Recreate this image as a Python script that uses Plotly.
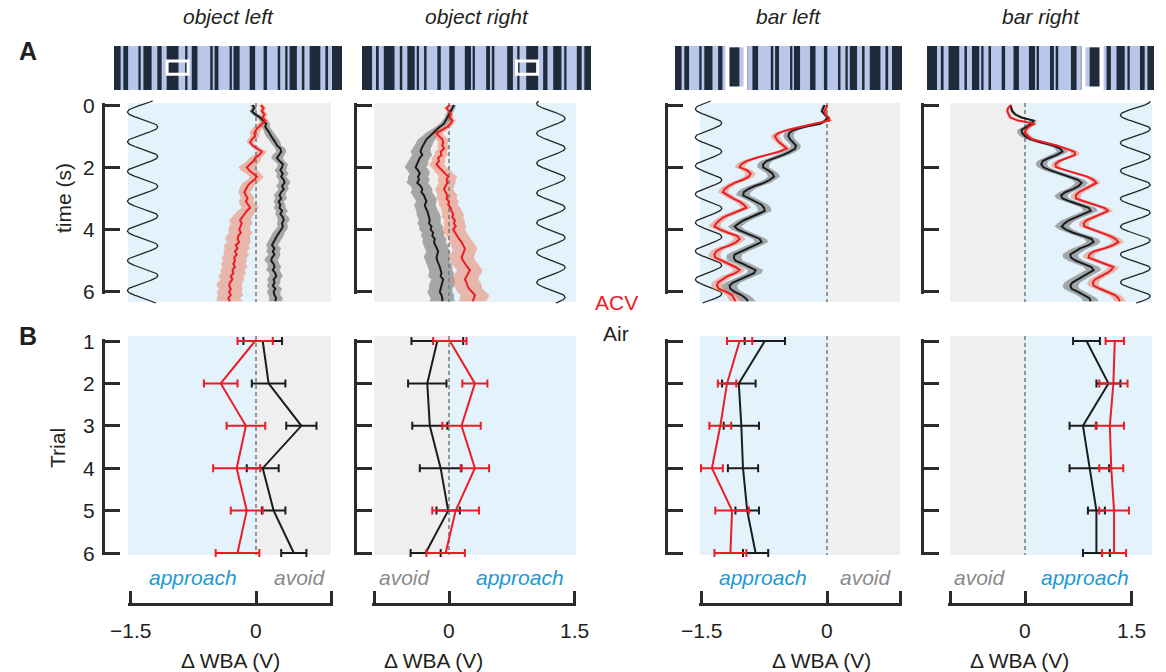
import numpy as np
import plotly.graph_objects as go

W, H = 1166, 672

# ---------------------------------------------------------------- data
time_s = [round(0.1 * i, 1) for i in range(64)]
trials = [1, 2, 3, 4, 5, 6]
time_ticks = [0, 2, 4, 6]

# Panel A: mean change in wingbeat amplitude (V) over time, with SEM
acv_object_left = [0.06, 0.09, 0.07, 0.10, 0.08, 0.11, 0.07, 0.03, 0.00, -0.02,
                   -0.01, -0.05, -0.07, -0.04, 0.02, 0.07, 0.04, -0.01, -0.03, -0.07,
                   -0.11, -0.08, -0.03, 0.01, -0.02, -0.07, -0.10, -0.12, -0.14, -0.12,
                   -0.10, -0.12, -0.09, -0.07, -0.11, -0.14, -0.17, -0.19, -0.17, -0.19,
                   -0.20, -0.18, -0.21, -0.22, -0.20, -0.24, -0.22, -0.25, -0.23, -0.26,
                   -0.25, -0.27, -0.25, -0.28, -0.27, -0.30, -0.28, -0.31, -0.32, -0.30,
                   -0.32, -0.30, -0.33, -0.31]
acv_object_left_sem = [0.03, 0.03, 0.03, 0.04, 0.04, 0.04, 0.05, 0.05, 0.06, 0.06,
                       0.05, 0.05, 0.04, 0.04, 0.05, 0.06, 0.06, 0.07, 0.08, 0.09,
                       0.10, 0.10, 0.09, 0.08, 0.08, 0.09, 0.08, 0.08, 0.07, 0.08,
                       0.08, 0.09, 0.10, 0.10, 0.11, 0.12, 0.12, 0.13, 0.13, 0.12,
                       0.13, 0.14, 0.14, 0.15, 0.14, 0.15, 0.15, 0.14, 0.15, 0.15,
                       0.14, 0.15, 0.15, 0.14, 0.15, 0.15, 0.14, 0.15, 0.15, 0.14,
                       0.15, 0.15, 0.14, 0.15]
air_object_left = [-0.04, -0.02, -0.05, -0.01, 0.05, 0.09, 0.12, 0.11, 0.14, 0.16,
                   0.18, 0.21, 0.23, 0.25, 0.29, 0.30, 0.27, 0.25, 0.28, 0.32,
                   0.31, 0.29, 0.32, 0.30, 0.33, 0.34, 0.31, 0.33, 0.30, 0.28,
                   0.30, 0.27, 0.29, 0.28, 0.31, 0.29, 0.32, 0.33, 0.31, 0.32,
                   0.30, 0.27, 0.25, 0.23, 0.21, 0.19, 0.22, 0.20, 0.22, 0.19,
                   0.18, 0.21, 0.22, 0.20, 0.23, 0.24, 0.21, 0.22, 0.20, 0.23,
                   0.21, 0.22, 0.24, 0.23]
air_object_left_sem = [0.03, 0.03, 0.03, 0.04, 0.04, 0.05, 0.05, 0.05, 0.05, 0.06,
                       0.06, 0.06, 0.06, 0.05, 0.06, 0.06, 0.07, 0.07, 0.06, 0.06,
                       0.06, 0.07, 0.07, 0.06, 0.06, 0.07, 0.07, 0.06, 0.06, 0.07,
                       0.07, 0.06, 0.06, 0.07, 0.07, 0.06, 0.07, 0.07, 0.06, 0.06,
                       0.07, 0.07, 0.08, 0.08, 0.07, 0.07, 0.08, 0.08, 0.07, 0.08,
                       0.08, 0.07, 0.08, 0.08, 0.07, 0.08, 0.08, 0.07, 0.07, 0.08,
                       0.08, 0.07, 0.08, 0.08]

acv_object_right = [0.01, -0.03, 0.00, 0.02, 0.01, 0.04, 0.02, -0.02, -0.08, -0.15,
                    -0.12, -0.08, -0.07, -0.08, -0.06, -0.10, -0.09, -0.13, -0.12, -0.15,
                    -0.12, -0.08, -0.05, -0.01, -0.03, -0.02, -0.04, -0.06, -0.04, -0.02,
                    -0.03, 0.00, -0.01, 0.02, 0.03, 0.05, 0.04, 0.07, 0.06, 0.08,
                    0.05, 0.07, 0.10, 0.12, 0.15, 0.17, 0.19, 0.18, 0.16, 0.15,
                    0.17, 0.19, 0.22, 0.25, 0.23, 0.20, 0.19, 0.21, 0.22, 0.24,
                    0.27, 0.31, 0.30, 0.28]
acv_object_right_sem = [0.03, 0.03, 0.03, 0.03, 0.04, 0.04, 0.04, 0.05, 0.06, 0.07,
                        0.07, 0.07, 0.06, 0.06, 0.07, 0.07, 0.08, 0.08, 0.08, 0.09,
                        0.09, 0.10, 0.10, 0.11, 0.11, 0.10, 0.10, 0.11, 0.11, 0.12,
                        0.12, 0.12, 0.11, 0.12, 0.12, 0.13, 0.13, 0.12, 0.13, 0.13,
                        0.14, 0.14, 0.13, 0.14, 0.14, 0.15, 0.15, 0.14, 0.15, 0.15,
                        0.15, 0.16, 0.16, 0.15, 0.16, 0.16, 0.16, 0.17, 0.17, 0.16,
                        0.17, 0.17, 0.17, 0.16]
air_object_right = [0.06, 0.04, 0.02, 0.00, -0.01, -0.03, -0.06, -0.11, -0.15, -0.20,
                    -0.23, -0.27, -0.29, -0.31, -0.33, -0.34, -0.32, -0.35, -0.37, -0.38,
                    -0.40, -0.37, -0.35, -0.37, -0.36, -0.38, -0.34, -0.32, -0.33, -0.30,
                    -0.28, -0.27, -0.29, -0.28, -0.26, -0.25, -0.24, -0.23, -0.24, -0.21,
                    -0.22, -0.19, -0.20, -0.17, -0.18, -0.16, -0.15, -0.13, -0.14, -0.15,
                    -0.14, -0.12, -0.11, -0.10, -0.09, -0.10, -0.07, -0.08, -0.09, -0.10,
                    -0.11, -0.09, -0.08, -0.08]
air_object_right_sem = [0.03, 0.03, 0.03, 0.04, 0.04, 0.05, 0.05, 0.06, 0.07, 0.08,
                        0.09, 0.10, 0.10, 0.11, 0.11, 0.12, 0.12, 0.12, 0.12, 0.13,
                        0.13, 0.13, 0.12, 0.12, 0.13, 0.13, 0.12, 0.12, 0.13, 0.13,
                        0.13, 0.12, 0.13, 0.13, 0.13, 0.14, 0.14, 0.13, 0.14, 0.14,
                        0.14, 0.13, 0.14, 0.14, 0.14, 0.15, 0.14, 0.14, 0.15, 0.15,
                        0.14, 0.15, 0.15, 0.14, 0.15, 0.15, 0.14, 0.15, 0.15, 0.14,
                        0.15, 0.15, 0.14, 0.15]

acv_bar_left = [0.00, -0.01, -0.03, -0.02, 0.02, 0.03, -0.15, -0.33, -0.47, -0.58,
                -0.62, -0.60, -0.57, -0.52, -0.48, -0.57, -0.72, -0.85, -0.96, -1.02,
                -1.04, -0.95, -0.91, -0.93, -1.00, -1.10, -1.17, -1.22, -1.24, -1.18,
                -1.12, -1.04, -0.99, -0.96, -1.05, -1.15, -1.23, -1.28, -1.32, -1.34,
                -1.27, -1.18, -1.07, -1.04, -1.08, -1.15, -1.26, -1.32, -1.34, -1.33,
                -1.25, -1.18, -1.09, -1.04, -1.09, -1.19, -1.25, -1.30, -1.31, -1.29,
                -1.20, -1.13, -1.11, -1.09]
acv_bar_left_sem = [0.02, 0.02, 0.02, 0.02, 0.02, 0.03, 0.04, 0.05, 0.05, 0.05,
                    0.05, 0.05, 0.05, 0.05, 0.05, 0.05, 0.05, 0.05, 0.06, 0.06,
                    0.06, 0.06, 0.06, 0.06, 0.06, 0.06, 0.06, 0.06, 0.06, 0.06,
                    0.06, 0.06, 0.06, 0.06, 0.06, 0.06, 0.06, 0.06, 0.06, 0.07,
                    0.07, 0.07, 0.07, 0.07, 0.07, 0.07, 0.07, 0.07, 0.07, 0.07,
                    0.07, 0.07, 0.07, 0.07, 0.07, 0.07, 0.07, 0.07, 0.07, 0.07,
                    0.07, 0.07, 0.07, 0.07]
air_bar_left = [-0.03, -0.05, -0.06, -0.03, 0.01, -0.02, -0.08, -0.26, -0.40, -0.45,
                -0.46, -0.44, -0.40, -0.37, -0.38, -0.44, -0.52, -0.62, -0.72, -0.76,
                -0.76, -0.70, -0.65, -0.63, -0.68, -0.75, -0.86, -0.94, -0.99, -1.00,
                -0.92, -0.84, -0.78, -0.75, -0.74, -0.82, -0.91, -0.99, -1.05, -1.10,
                -1.06, -0.98, -0.88, -0.80, -0.78, -0.86, -0.94, -1.03, -1.10, -1.11,
                -1.09, -1.00, -0.92, -0.85, -0.87, -0.95, -1.04, -1.12, -1.16, -1.15,
                -1.10, -1.02, -0.97, -0.94]
air_bar_left_sem = [0.02, 0.02, 0.02, 0.02, 0.03, 0.03, 0.04, 0.05, 0.06, 0.06,
                    0.06, 0.06, 0.06, 0.06, 0.06, 0.07, 0.07, 0.07, 0.07, 0.07,
                    0.07, 0.07, 0.07, 0.07, 0.07, 0.08, 0.08, 0.08, 0.08, 0.08,
                    0.08, 0.08, 0.08, 0.08, 0.08, 0.08, 0.08, 0.08, 0.08, 0.08,
                    0.08, 0.08, 0.08, 0.08, 0.08, 0.09, 0.09, 0.09, 0.09, 0.09,
                    0.09, 0.09, 0.09, 0.09, 0.09, 0.09, 0.09, 0.09, 0.09, 0.09,
                    0.09, 0.09, 0.09, 0.09]

acv_bar_right = [-0.19, -0.24, -0.25, -0.23, -0.21, -0.10, 0.14, 0.05, 0.01, 0.00,
                 0.04, 0.10, 0.29, 0.45, 0.58, 0.70, 0.71, 0.59, 0.48, 0.43,
                 0.44, 0.58, 0.74, 0.88, 0.97, 1.01, 0.93, 0.84, 0.76, 0.72,
                 0.72, 0.84, 0.97, 1.12, 1.18, 1.08, 0.96, 0.87, 0.83, 0.84,
                 0.96, 1.08, 1.20, 1.28, 1.32, 1.25, 1.13, 0.97, 0.91, 0.90,
                 1.02, 1.14, 1.25, 1.22, 1.16, 1.07, 0.99, 0.96, 0.97, 1.06,
                 1.16, 1.27, 1.32, 1.34]
acv_bar_right_sem = [0.02, 0.02, 0.02, 0.03, 0.03, 0.03, 0.04, 0.04, 0.04, 0.05,
                     0.05, 0.05, 0.05, 0.05, 0.06, 0.06, 0.06, 0.06, 0.06, 0.06,
                     0.06, 0.06, 0.06, 0.06, 0.06, 0.06, 0.07, 0.07, 0.07, 0.07,
                     0.07, 0.07, 0.07, 0.07, 0.07, 0.07, 0.07, 0.07, 0.07, 0.07,
                     0.07, 0.07, 0.08, 0.08, 0.08, 0.08, 0.08, 0.08, 0.08, 0.08,
                     0.08, 0.08, 0.08, 0.08, 0.08, 0.08, 0.08, 0.08, 0.08, 0.08,
                     0.08, 0.08, 0.08, 0.08]
air_bar_right = [-0.21, -0.19, -0.18, -0.14, -0.05, 0.12, 0.09, 0.02, -0.05, -0.04,
                 0.00, 0.08, 0.22, 0.40, 0.50, 0.53, 0.45, 0.34, 0.25, 0.23,
                 0.26, 0.36, 0.50, 0.64, 0.75, 0.80, 0.76, 0.68, 0.57, 0.51,
                 0.53, 0.64, 0.78, 0.90, 0.93, 0.82, 0.71, 0.62, 0.56, 0.52,
                 0.58, 0.68, 0.82, 0.94, 0.97, 0.90, 0.78, 0.70, 0.64, 0.65,
                 0.72, 0.83, 0.94, 0.97, 0.89, 0.81, 0.73, 0.67, 0.64, 0.66,
                 0.75, 0.84, 0.91, 0.93]
air_bar_right_sem = [0.02, 0.02, 0.03, 0.03, 0.04, 0.05, 0.05, 0.06, 0.06, 0.07,
                     0.07, 0.07, 0.07, 0.08, 0.08, 0.08, 0.08, 0.08, 0.08, 0.08,
                     0.08, 0.09, 0.09, 0.09, 0.09, 0.09, 0.09, 0.09, 0.09, 0.09,
                     0.09, 0.09, 0.09, 0.10, 0.10, 0.10, 0.10, 0.10, 0.10, 0.10,
                     0.10, 0.10, 0.10, 0.10, 0.10, 0.11, 0.11, 0.11, 0.11, 0.11,
                     0.11, 0.11, 0.11, 0.11, 0.11, 0.11, 0.11, 0.11, 0.11, 0.11,
                     0.11, 0.11, 0.11, 0.11]

# Panel B: per-trial mean response (V) and error
acv_trial_object_left = [-0.01, -0.42, -0.12, -0.23, -0.11, -0.22]
acv_trial_object_left_err = [0.21, 0.20, 0.23, 0.28, 0.19, 0.26]
air_trial_object_left = [0.08, 0.15, 0.54, 0.08, 0.21, 0.45]
air_trial_object_left_err = [0.23, 0.20, 0.18, 0.19, 0.14, 0.15]

acv_trial_object_right = [0.01, 0.31, 0.15, 0.31, 0.08, -0.04]
acv_trial_object_right_err = [0.20, 0.15, 0.23, 0.17, 0.28, 0.23]
air_trial_object_right = [-0.14, -0.26, -0.23, -0.10, -0.01, -0.28]
air_trial_object_right_err = [0.31, 0.23, 0.21, 0.25, 0.14, 0.18]

acv_trial_bar_left = [-1.04, -1.19, -1.27, -1.37, -1.13, -1.15]
acv_trial_bar_left_err = [0.15, 0.11, 0.13, 0.13, 0.20, 0.19]
air_trial_bar_left = [-0.74, -1.05, -1.02, -1.00, -0.95, -0.85]
air_trial_bar_left_err = [0.24, 0.20, 0.21, 0.18, 0.14, 0.15]

acv_trial_bar_right = [1.27, 1.25, 1.20, 1.22, 1.26, 1.26]
acv_trial_bar_right_err = [0.13, 0.20, 0.20, 0.17, 0.21, 0.17]
air_trial_bar_right = [0.87, 1.18, 0.82, 0.91, 1.01, 1.01]
air_trial_bar_right_err = [0.19, 0.17, 0.19, 0.28, 0.12, 0.19]

# Visual stimulus oscillation: centre (V), amplitude (V), period (s), time of rightmost swing (s)
stim_object_left = (-1.35, 0.18, 0.955, 0.70)
stim_object_right = (1.22, 0.17, 0.957, 0.43)
stim_bar_left = (-1.41, 0.157, 0.913, 0.58)
stim_bar_right = (1.56, 0.21, 0.895, 0.77)

# Stimulus pattern: dark stripes as fractions of the panorama width
pattern_stripes = [(0.000, 0.029), (0.041, 0.062), (0.107, 0.117), (0.129, 0.165),
                   (0.190, 0.209), (0.231, 0.283), (0.312, 0.322), (0.341, 0.366),
                   (0.422, 0.433), (0.441, 0.458), (0.507, 0.517), (0.524, 0.551),
                   (0.595, 0.619), (0.656, 0.671), (0.718, 0.729), (0.751, 0.761),
                   (0.770, 0.802), (0.824, 0.835), (0.858, 0.905), (0.927, 0.939),
                   (0.956, 1.000)]

column_titles = ['object left', 'object right', 'bar left', 'bar right']

# ---------------------------------------------------------------- style
FONT = 'Liberation Sans, Arial, Helvetica, sans-serif'
FS = 21                 # base text size
INK = '#231f20'
RED = '#ec1c24'
BLACK = '#1c1c1c'
BLUE_BG = '#e3f2fb'
GREY_BG = '#efefef'
RED_BAND = 'rgba(236,135,105,0.55)'
GREY_BAND = 'rgba(105,105,105,0.55)'
STRIPE_DARK = '#1f2b3a'
STRIPE_LIGHT = '#b8c7e9'
APPROACH_C = '#1b9ad6'
AVOID_C = '#8a8a8a'
AXIS_C = '#2b2b2b'

# pixel geometry of each column: x-pixel of 0 V, pixels per volt, shaded extent,
# bracket position, stimulus icon extent, side of the approach region
columns = [
    dict(zero=256.0, scale=84.0, bg=(128, 331), bracket=105, icon=(114, 342),
         approach='left', span=(-1.5, None), icon_kind='frame', mirror=False,
         title_x=228, approach_x=193, avoid_x=300, wba_x=230),
    dict(zero=449.0, scale=83.5, bg=(374, 576), bracket=357, icon=(362, 591),
         approach='right', span=(None, 1.5), icon_kind='frame', mirror=True,
         title_x=477, approach_x=520, avoid_x=405, wba_x=433),
    dict(zero=827.0, scale=84.0, bg=(700, 900), bracket=668, icon=(675, 902),
         approach='left', span=(-1.5, None), icon_kind='bar', mirror=False,
         title_x=788, approach_x=763, avoid_x=866, wba_x=821),
    dict(zero=1025.0, scale=70.7, bg=(950, 1152), bracket=924, icon=(927, 1154),
         approach='right', span=(None, 1.5), icon_kind='bar', mirror=True,
         title_x=1041, approach_x=1085, avoid_x=980, wba_x=1019),
]

series_a = [
    (acv_object_left, acv_object_left_sem, air_object_left, air_object_left_sem, stim_object_left),
    (acv_object_right, acv_object_right_sem, air_object_right, air_object_right_sem, stim_object_right),
    (acv_bar_left, acv_bar_left_sem, air_bar_left, air_bar_left_sem, stim_bar_left),
    (acv_bar_right, acv_bar_right_sem, air_bar_right, air_bar_right_sem, stim_bar_right),
]
series_b = [
    (acv_trial_object_left, acv_trial_object_left_err, air_trial_object_left, air_trial_object_left_err),
    (acv_trial_object_right, acv_trial_object_right_err, air_trial_object_right, air_trial_object_right_err),
    (acv_trial_bar_left, acv_trial_bar_left_err, air_trial_bar_left, air_trial_bar_left_err),
    (acv_trial_bar_right, acv_trial_bar_right_err, air_trial_bar_right, air_trial_bar_right_err),
]

# row A: y pixel of t = 0 and pixels per second; row B: y pixel of trial 1 and pixels per trial
T0_PX, T_SCALE = 105.0, 31.15
TR1_PX, TR_SCALE = 341.0, 42.4
TICK_LABEL_GAP = 8      # gap between bracket line and its tick labels (px)
END_PAD_PX = 2.0        # axis line overhang so the end ticks are kept
BOTTOM_AXIS_PX = 603    # y pixel of the ΔWBA axis line
BOTTOM_LABEL_PX = 630   # y pixel of the ΔWBA tick labels


def t_of(py):
    return (py - T0_PX) / T_SCALE


def trial_of(py):
    return 1 + (py - TR1_PX) / TR_SCALE


layout = dict(
    width=W, height=H, margin=dict(l=0, r=0, t=0, b=0),
    paper_bgcolor='white', plot_bgcolor='rgba(0,0,0,0)',
    showlegend=False, font=dict(family=FONT, size=FS, color=INK),
)
shapes, annotations, traces = [], [], []
axis_count = 0


def add_axes(xpx, ypx, xrange, yrange, xextra=None, yextra=None):
    global axis_count
    axis_count += 1
    k = '' if axis_count == 1 else str(axis_count)
    hidden = dict(visible=False, showgrid=False, zeroline=False, fixedrange=True)
    xa = dict(hidden, domain=[xpx[0] / W, xpx[1] / W], range=list(xrange), anchor='y' + k)
    ya = dict(hidden, domain=[1 - ypx[1] / H, 1 - ypx[0] / H], range=list(yrange), anchor='x' + k)
    if xextra:
        xa.update(xextra)
    if yextra:
        ya.update(yextra)
    layout['xaxis' + k] = xa
    layout['yaxis' + k] = ya
    # an empty placeholder trace keeps the subplot (and its visible axis) rendered
    traces.append(go.Scatter(x=[None], y=[None], mode='markers', xaxis='x' + k, yaxis='y' + k,
                             hoverinfo='skip'))
    return 'x' + k, 'y' + k


def rect(xr, yr, x0, x1, y0, y1, color, layer='below'):
    shapes.append(dict(type='rect', xref=xr, yref=yr, x0=x0, x1=x1, y0=y0, y1=y1,
                       fillcolor=color, line=dict(width=0), layer=layer))


def text(s, px, py, size=FS, color=INK, angle=0):
    annotations.append(dict(text=s, x=px / W, y=1 - py / H, xref='paper', yref='paper',
                            showarrow=False, xanchor='center', yanchor='middle',
                            textangle=angle, font=dict(family=FONT, size=size, color=color)))


bracket_axis = dict(visible=True, showline=True, linewidth=2.5, linecolor=AXIS_C,
                    ticks='inside', ticklen=15, tickwidth=2.5, tickcolor=AXIS_C,
                    showgrid=False, zeroline=False, showticklabels=False)


def bracket_labels(yref, values, bx):
    for val in values:
        annotations.append(dict(text=str(val), x=(bx - TICK_LABEL_GAP) / W, xref='paper',
                                y=val, yref=yref, showarrow=False, xanchor='right',
                                yanchor='middle', font=dict(family=FONT, size=FS, color=INK)))


for ci, col in enumerate(columns):
    v = lambda px, c=col: (px - c['zero']) / c['scale']
    bgl, bgr = col['bg']
    xpx = (bgl - 10, bgr + 3)
    xrange = [v(xpx[0]), v(xpx[1])]
    left_c, right_c = (BLUE_BG, GREY_BG) if col['approach'] == 'left' else (GREY_BG, BLUE_BG)

    # ---------- row A: time courses
    ypx = (100, 306)
    xa, ya = add_axes(xpx, ypx, xrange, [t_of(ypx[1]), t_of(ypx[0])])
    ta, tb = t_of(103), t_of(302)
    rect(xa, ya, v(bgl), 0, ta, tb, left_c)
    rect(xa, ya, 0, v(bgr), ta, tb, right_c)

    acv, acv_sem, air, air_sem, stim = series_a[ci]
    c0, amp, per, ph = stim
    ts = np.linspace(t_of(101), t_of(303), 500)
    traces.append(go.Scatter(x=c0 + amp * np.cos(2 * np.pi * (ts - ph) / per), y=ts,
                             mode='lines', line=dict(color='#262626', width=1.3),
                             xaxis=xa, yaxis=ya, hoverinfo='skip'))
    for mean, sem, band in ((air, air_sem, GREY_BAND), (acv, acv_sem, RED_BAND)):
        m, s = np.array(mean), np.array(sem)
        traces.append(go.Scatter(x=np.concatenate([m + s, (m - s)[::-1]]),
                                 y=time_s + time_s[::-1], fill='toself', fillcolor=band,
                                 mode='lines', line=dict(width=0), xaxis=xa, yaxis=ya,
                                 hoverinfo='skip'))
    traces.append(go.Scatter(x=[0, 0], y=[ta, tb], mode='lines',
                             line=dict(color='#7a7a7a', width=1.5, dash='4px,3px'),
                             xaxis=xa, yaxis=ya, hoverinfo='skip'))
    traces.append(go.Scatter(x=air, y=time_s, mode='lines', line=dict(color=BLACK, width=2),
                             xaxis=xa, yaxis=ya, name='Air'))
    traces.append(go.Scatter(x=acv, y=time_s, mode='lines', line=dict(color=RED, width=2),
                             xaxis=xa, yaxis=ya, name='ACV'))

    # bracket-style time axis (its own narrow subplot just left of the panel)
    bx = col['bracket']
    ea = END_PAD_PX / T_SCALE
    _, yt = add_axes((bx, bx + 6), (T0_PX - END_PAD_PX, T0_PX + 6 * T_SCALE + END_PAD_PX),
                     [0, 1], [6 + ea, -ea],
                     yextra=dict(bracket_axis, tickvals=time_ticks))
    if ci == 0:
        bracket_labels(yt, time_ticks, bx)

    # ---------- row B: per-trial means
    ypx = (332, 558)
    xb, yb = add_axes(xpx, ypx, xrange, [trial_of(ypx[1]), trial_of(ypx[0])])
    ba, bb = trial_of(336), trial_of(555)
    rect(xb, yb, v(bgl), 0, ba, bb, left_c)
    rect(xb, yb, 0, v(bgr), ba, bb, right_c)
    acv_m, acv_e, air_m, air_e = series_b[ci]
    traces.append(go.Scatter(x=[0, 0], y=[ba, bb], mode='lines',
                             line=dict(color='#7a7a7a', width=1.5, dash='4px,3px'),
                             xaxis=xb, yaxis=yb, hoverinfo='skip'))
    traces.append(go.Scatter(x=air_m, y=trials, mode='lines', line=dict(color=BLACK, width=2),
                             error_x=dict(type='data', array=air_e, color=BLACK, thickness=2, width=4),
                             xaxis=xb, yaxis=yb, name='Air'))
    traces.append(go.Scatter(x=acv_m, y=trials, mode='lines', line=dict(color=RED, width=2),
                             error_x=dict(type='data', array=acv_e, color=RED, thickness=2, width=4),
                             xaxis=xb, yaxis=yb, name='ACV'))

    eb = END_PAD_PX / TR_SCALE
    _, ytr = add_axes((bx, bx + 6), (TR1_PX - END_PAD_PX, TR1_PX + 5 * TR_SCALE + END_PAD_PX),
                      [0, 1], [6 + eb, 1 - eb],
                      yextra=dict(bracket_axis, tickvals=trials))
    if ci == 0:
        bracket_labels(ytr, trials, bx)

    # ---------- bottom ΔWBA axis
    lo = col['span'][0] if col['span'][0] is not None else v(bgl)
    hi = col['span'][1] if col['span'][1] is not None else v(bgr)
    e2 = END_PAD_PX / col['scale']
    px_lo = col['zero'] + (lo - e2) * col['scale']
    px_hi = col['zero'] + (hi + e2) * col['scale']
    xw, _ = add_axes((px_lo, px_hi), (BOTTOM_AXIS_PX - 15, BOTTOM_AXIS_PX), [lo - e2, hi + e2], [0, 1],
                     xextra=dict(visible=True, showline=True, linewidth=2.5, linecolor=AXIS_C,
                                 ticks='inside', ticklen=12, tickwidth=2.5, tickcolor=AXIS_C,
                                 showgrid=False, zeroline=False, tickvals=[lo, 0, hi],
                                 showticklabels=False))
    tick_names = {-1.5: '\u22121.5', 0.0: '0', 1.5: '1.5'}
    for val in (lo, 0.0, hi):
        if round(val, 3) in tick_names:
            annotations.append(dict(text=tick_names[round(val, 3)], x=val, xref=xw,
                                    y=1 - BOTTOM_LABEL_PX / H, yref='paper', showarrow=False,
                                    xanchor='center', yanchor='middle',
                                    font=dict(family=FONT, size=FS, color=INK)))

    # ---------- stimulus icon
    il, ir = col['icon']
    xi, yi = add_axes((il, ir), (46, 90), [0, 1], [1, 0])
    flip = (lambda a, b: (1 - b, 1 - a)) if col['mirror'] else (lambda a, b: (a, b))
    rect(xi, yi, 0, 1, 0, 1, STRIPE_LIGHT, layer='above')
    for a, b in pattern_stripes:
        a2, b2 = flip(a, b)
        rect(xi, yi, a2, b2, 0, 1, STRIPE_DARK, layer='above')
    if col['icon_kind'] == 'frame':
        a2, b2 = flip(0.233, 0.325)
        shapes.append(dict(type='rect', xref=xi, yref=yi, x0=a2, x1=b2, y0=0.34, y1=0.64,
                           line=dict(color='white', width=3), fillcolor='rgba(0,0,0,0)',
                           layer='above'))
    else:
        a2, b2 = flip(0.222, 0.320)
        rect(xi, yi, a2, b2, 0, 1, 'white', layer='above')
        a2, b2 = flip(0.284, 0.302)
        rect(xi, yi, a2, b2, 0.03, 0.92, STRIPE_LIGHT, layer='above')
        a2, b2 = flip(0.240, 0.284)
        rect(xi, yi, a2, b2, 0.03, 0.92, STRIPE_DARK, layer='above')

    # ---------- texts
    text('<i>%s</i>' % column_titles[ci], col['title_x'], 16, size=FS)
    text('<i>approach</i>', col['approach_x'], 577, size=FS, color=APPROACH_C)
    text('<i>avoid</i>', col['avoid_x'], 577, size=FS, color=AVOID_C)
    text('\u0394 WBA (V)', col['wba_x'], 660, size=FS)

text('<b>A</b>', 28, 51, size=25)
text('<b>B</b>', 28, 336, size=25)
text('time (s)', 63, 198, size=FS, angle=-90)
text('Trial', 57, 448, size=FS, angle=-90)
text('ACV', 616, 302, size=FS, color=RED)
text('Air', 616, 333, size=FS, color=INK)

layout['shapes'] = shapes
layout['annotations'] = annotations
fig = go.Figure(data=traces, layout=layout)
fig.write_html('out.html')
